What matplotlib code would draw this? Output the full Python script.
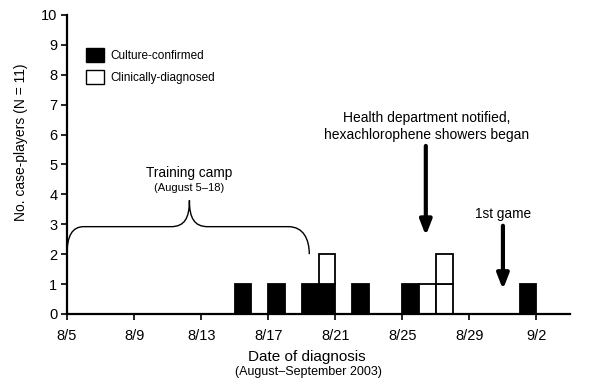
import matplotlib.pyplot as plt
from matplotlib.path import Path
from matplotlib.patches import PathPatch, Patch

plt.rcParams['font.family'] = ['Liberation Sans', 'DejaVu Sans']

# days after 8/5
culture_days = [10, 12, 14, 15, 17, 20, 27]
culture_counts = [1, 1, 1, 1, 1, 1, 1]
clinical_days = [15, 21, 22]
clinical_counts = [1, 1, 2]

tick_days = [0, 4, 8, 12, 16, 20, 24, 28]
tick_labels = ["8/5", "8/9", "8/13", "8/17", "8/21", "8/25", "8/29", "9/2"]

fig = plt.figure(figsize=(6, 3.91), dpi=100)
ax = fig.add_axes([0.1117, 0.197, 0.8383, 0.7647])

# stacked unit boxes, culture first then clinical on top
base = {}
for d, c in zip(culture_days, culture_counts):
    for k in range(c):
        b = base.get(d, 0)
        ax.bar(d, 1, bottom=b, width=1, align="edge", color="black",
               edgecolor="black", linewidth=1.3)
        base[d] = b + 1
for d, c in zip(clinical_days, clinical_counts):
    for k in range(c):
        b = base.get(d, 0)
        ax.bar(d, 1, bottom=b, width=1, align="edge", color="white",
               edgecolor="black", linewidth=1.3)
        base[d] = b + 1

ax.set_xlim(0, 30)
ax.set_ylim(0, 10)
ax.set_yticks(range(0, 11))
ax.set_xticks(tick_days)
ax.set_xticklabels(tick_labels)
ax.tick_params(labelsize=10.5, width=1.2, length=4, direction="out")
ax.tick_params(axis="x", pad=7)
ax.tick_params(axis="y", pad=3)
for s in ["top", "right"]:
    ax.spines[s].set_visible(False)
for s in ["left", "bottom"]:
    ax.spines[s].set_linewidth(1.6)
ax.set_ylabel("No. case-players (N = 11)", fontsize=10)
ax.yaxis.set_label_coords(-0.077, 0.575)

fig.text(0.512, 1 - 357 / 391, "Date of diagnosis", ha="center",
         va="center", fontsize=11)
fig.text(0.514, 1 - 372 / 391, "(August\u2013September 2003)",
         ha="center", va="center", fontsize=9)

# training camp brace
verts = [(0, 2.0), (0, 2.6), (0.3, 2.92), (1.0, 2.92),
         (6.2, 2.92),
         (7.0, 2.92), (7.3, 3.2), (7.3, 3.8),
         (7.3, 3.2), (7.6, 2.92), (8.4, 2.92),
         (13.2, 2.92),
         (14.1, 2.92), (14.45, 2.5), (14.45, 2.0)]
codes = [Path.MOVETO, Path.CURVE4, Path.CURVE4, Path.CURVE4,
         Path.LINETO,
         Path.CURVE4, Path.CURVE4, Path.CURVE4,
         Path.CURVE4, Path.CURVE4, Path.CURVE4,
         Path.LINETO,
         Path.CURVE4, Path.CURVE4, Path.CURVE4]
ax.add_patch(PathPatch(Path(verts, codes), fill=False, lw=1.0,
                       edgecolor="black", clip_on=False))
ax.text(7.3, 4.72, "Training camp", ha="center", va="center", fontsize=9.8)
ax.text(7.3, 4.2, "(August 5\u201318)", ha="center", va="center", fontsize=8)

# arrows
ax.annotate("", xy=(21.4, 2.62), xytext=(21.4, 5.62),
            arrowprops=dict(arrowstyle="-|>,head_width=0.35,head_length=0.9",
                            lw=3, color="black", shrinkA=0, shrinkB=0))
ax.text(21.45, 6.55, "Health department notified,", ha="center",
        va="center", fontsize=10)
ax.text(21.45, 6.0, "hexachlorophene showers began", ha="center",
        va="center", fontsize=10)
ax.annotate("", xy=(26.0, 0.82), xytext=(26.0, 2.95),
            arrowprops=dict(arrowstyle="-|>,head_width=0.35,head_length=0.9",
                            lw=3, color="black", shrinkA=0, shrinkB=0))
ax.text(26.0, 3.35, "1st game", ha="center", va="center", fontsize=9.8)

handles = [Patch(facecolor="black", edgecolor="black"),
           Patch(facecolor="white", edgecolor="black")]
ax.legend(handles, ["Culture-confirmed", "Clinically-diagnosed"],
          loc="upper left", bbox_to_anchor=(0.022, 0.918), frameon=False,
          fontsize=8.5, handlelength=1.5, handleheight=1.5,
          handletextpad=0.55, labelspacing=0.65, borderpad=0.2)

fig.savefig("out.png", dpi=100)
